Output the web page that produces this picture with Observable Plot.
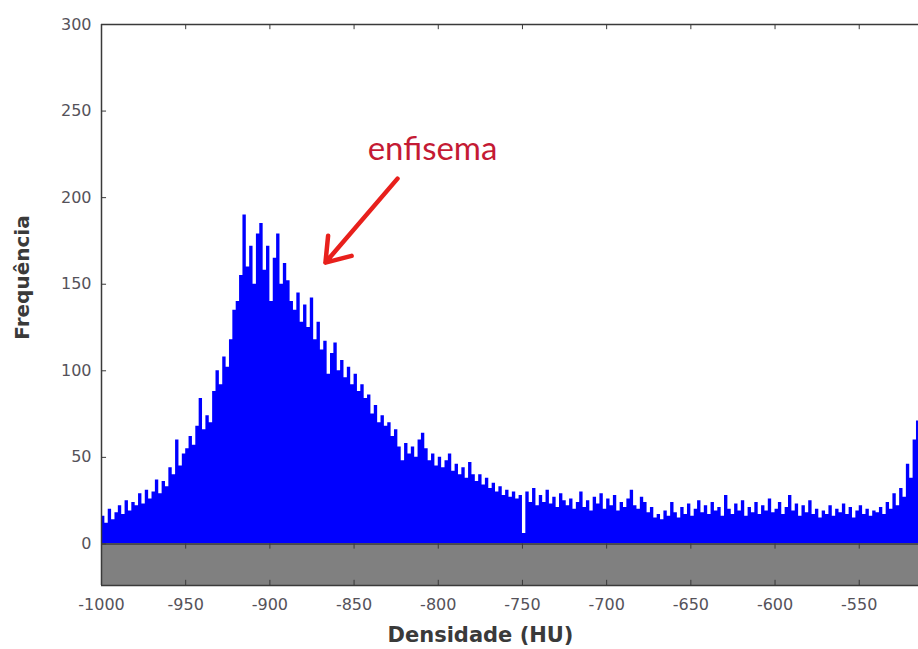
<!DOCTYPE html>
<html><head><meta charset="utf-8">
<script src="https://cdn.jsdelivr.net/npm/d3@7"></script>
<script src="https://cdn.jsdelivr.net/npm/@observablehq/plot@0.6"></script>
<style>body{margin:0;background:#fff}</style>
</head><body><div id="chart"></div>
<script>
// Histogram of lung density (2-HU bins starting at -1000)
const binStart = -1000;
const binWidth = 2;
const counts = [
  16, 12, 20, 14, 18,   22, 17, 25, 19, 24,
  22, 29, 23, 31, 26,   30, 37, 29, 36, 33,
  44, 40, 60, 45, 52,   55, 62, 57, 68, 84,
  66, 74, 70, 88, 100,  92, 108, 102, 118, 135,
  140, 155, 190, 160, 172,  150, 179, 185, 158, 172,
  140, 165, 179, 150, 162,  152, 140, 135, 145, 128,
  138, 125, 142, 118, 128,  112, 117, 98, 110, 116,
  100, 106, 96, 102, 92,    98, 88, 92, 84, 86,
  75, 80, 70, 74, 68,   70, 62, 66, 56, 48,
  58, 52, 56, 50, 60,   64, 55, 48, 52, 45,
  50, 44, 48, 52, 42,   46, 40, 44, 38, 47,
  40, 36, 40, 34, 38,   32, 35, 30, 33, 28,
  31, 27, 30, 26, 28,   6, 30, 24, 32, 22,
  28, 24, 31, 23, 27,   21, 29, 25, 22, 26,
  20, 24, 30, 21, 25,   19, 27, 23, 29, 20,
  26, 22, 28, 19, 24,   21, 26, 31, 22, 20,
  27, 24, 18, 21, 15,   17, 14, 19, 16, 24,
  18, 15, 21, 17, 23,   16, 20, 25, 18, 22,
  17, 24, 19, 21, 16,   28, 20, 17, 23, 19,
  25, 16, 21, 18, 24,   17, 22, 19, 26, 18,
  20, 24, 17, 21, 28,   19, 23, 16, 22, 18,
  25, 17, 20, 15, 19,   17, 22, 16, 20, 18,
  23, 17, 21, 15, 19,   22, 17, 20, 16, 19,
  18, 21, 17, 24, 20,   29, 22, 32, 27, 46,
  38, 60, 71
];
const xTicks = [-1000, -950, -900, -850, -800, -750, -700, -650, -600, -550];
const yTicks = [0, 50, 100, 150, 200, 250, 300];
const xDomain = [-1000, -514.8];
const yDomain = [-24, 300];
const xLabel = "Densidade (HU)";
const yLabel = "Frequência";
const noteText = ["enfisema"];
const noteX = [-803.4];
const noteY = [221.5];
const arrowFrom = [[-824.2, 211]];
const arrowTo = [[-867, 162.5]];

const hist = counts.map((c, i) => ({x: binStart + i * binWidth, y: c}));
hist.push({x: binStart + counts.length * binWidth, y: counts[counts.length - 1]});
const notes = noteText.map((t, i) => ({t, x: noteX[i], y: noteY[i]}));
const arrows = arrowFrom.map((a, i) => ({x1: a[0], y1: a[1], x2: arrowTo[i][0], y2: arrowTo[i][1]}));

const frameColor = "#3a3a3a";
const tickText = "#55525a";
const plain = d => String(d);

const chart = Plot.plot({
  width: 918,
  height: 649,
  marginLeft: 101,
  marginRight: 0,
  marginTop: 24,
  marginBottom: 64,
  x: {domain: xDomain},
  y: {domain: yDomain},
  style: {fontFamily: "DejaVu Sans", background: "#fff"},
  marks: [
    Plot.areaY(hist, {x: "x", y: "y", curve: "step-after", fill: "#0000ff", clip: true}),
    Plot.rect([0], {x1: xDomain[0], x2: xDomain[1], y1: yDomain[0], y2: 0, fill: "#808080"}),
    Plot.ruleY([300, 0, -24], {stroke: frameColor, strokeWidth: 1.5}),
    Plot.ruleX([-1000], {y1: -24, y2: 300, stroke: frameColor, strokeWidth: 1.5}),
    Plot.ruleX(xTicks, {y1: 300, y2: 297, stroke: frameColor}),
    Plot.ruleX(xTicks, {y1: 0, y2: -3, stroke: frameColor}),
    Plot.ruleX(xTicks, {y1: -24, y2: -21, stroke: frameColor}),
    Plot.ruleY(yTicks, {x1: -1000, x2: -997, stroke: frameColor}),
    Plot.axisY(yTicks, {tickSize: 0, tickPadding: 10, fontSize: 16, fill: tickText, label: null, tickFormat: plain}),
    Plot.axisX(xTicks, {anchor: "bottom", tickSize: 0, tickPadding: 13, fontSize: 16, fill: tickText, label: null, tickFormat: plain}),
    Plot.text([yLabel], {frameAnchor: "left", dx: -73, dy: -27.5, rotate: -90, lineAnchor: "bottom",
      textAnchor: "middle", fontSize: 20, fontWeight: "bold", fill: "#3a3a3a", letterSpacing: "0.3px"}),
    Plot.text([xLabel], {frameAnchor: "bottom", dx: -29.5, dy: 56, lineAnchor: "bottom",
      textAnchor: "middle", fontSize: 21, fontWeight: "bold", fill: "#3a3a3a", letterSpacing: "2.1px"}),
    Plot.arrow(arrows, {x1: "x1", y1: "y1", x2: "x2", y2: "y2", stroke: "#e8201c",
      strokeWidth: 4.5, headLength: 9, headAngle: 70}),
    Plot.text(notes, {x: "x", y: "y", text: "t", lineAnchor: "bottom", textAnchor: "middle",
      fontFamily: "Lato", fontSize: 33, fill: "#c41a34"})
  ]
});
document.getElementById("chart").append(chart);
</script>
</body></html>
